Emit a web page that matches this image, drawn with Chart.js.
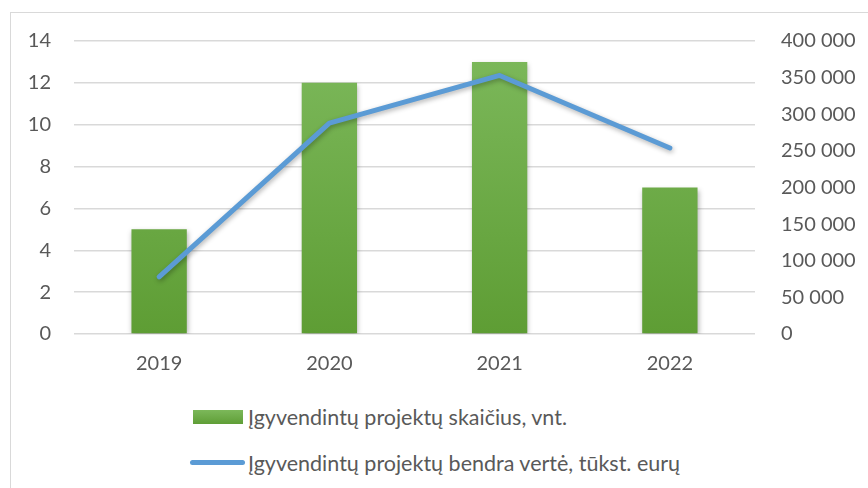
<!DOCTYPE html>
<html>
<head>
<meta charset="utf-8">
<script src="https://cdn.jsdelivr.net/npm/chart.js@4.4.0/dist/chart.umd.min.js"></script>
<style>
  html, body { margin: 0; padding: 0; background: #fff; }
  body { width: 868px; height: 488px; position: relative; overflow: hidden; font-family: Lato, "Liberation Sans", sans-serif; }
  #frame { position: absolute; left: 10px; top: 12px; width: 880px; height: 500px; border: 1px solid #d9d9d9; }
  #wrap { position: absolute; left: 0; top: 0; width: 868px; height: 400px; }
  .leg { position: absolute; left: 190px; font-size: 21.5px; color: #595959; white-space: nowrap; line-height: 24px; }
  .leg span { display: inline-block; vertical-align: middle; }
  .box { width: 50px; height: 14px; margin-left: 3px; margin-right: 5px; background: linear-gradient(#7cb85a, #5f9e36); }
  .ln { width: 55px; height: 5px; border-radius: 3px; margin-right: 3px; background: #5b9bd5; }
</style>
</head>
<body>
<div id="frame"></div>
<div id="wrap"><canvas id="chart" width="868" height="400"></canvas></div>
<div class="leg" id="leg1" style="top:402px"><span class="box"></span><span class="txt"></span></div>
<div class="leg" id="leg2" style="top:448px"><span class="ln"></span><span class="txt"></span></div>
<script>
const years = ['2019', '2020', '2021', '2022'];
const projectCount = [5, 12, 13, 7];
const projectValue = [78000, 288000, 353000, 254000];
const countLabel = 'Įgyvendintų projektų skaičius, vnt.';
const valueLabel = 'Įgyvendintų projektų bendra vertė, tūkst. eurų';

document.querySelector('#leg1 .txt').textContent = countLabel;
document.querySelector('#leg2 .txt').textContent = valueLabel;

const font = { family: 'Lato, "Liberation Sans", sans-serif', size: 20 };

function barFill(context) {
    const area = context.chart.chartArea;
    if (!area) return '#6aa843';
    const g = context.chart.ctx.createLinearGradient(0, area.top, 0, area.bottom);
    g.addColorStop(0, '#7db95c');
    g.addColorStop(1, '#5e9d34');
    return g;
}

const shadow = {
    id: 'shadow',
    beforeDatasetDraw(chart, args) {
        const ctx = chart.ctx;
        ctx.save();
        ctx.shadowColor = 'rgba(0,0,0,0.3)';
        ctx.shadowBlur = 5;
        ctx.shadowOffsetX = 1;
        ctx.shadowOffsetY = 2;
    },
    afterDatasetDraw(chart) {
        chart.ctx.restore();
    }
};

new Chart(document.getElementById('chart'), {
    data: {
        labels: years,
        datasets: [
            {
                type: 'line',
                label: valueLabel,
                data: projectValue,
                yAxisID: 'y1',
                borderColor: '#5b9bd5',
                borderWidth: 5,
                borderCapStyle: 'round',
                borderJoinStyle: 'round',
                pointRadius: 0,
                order: 0
            },
            {
                type: 'bar',
                label: countLabel,
                data: projectCount,
                yAxisID: 'y',
                backgroundColor: barFill,
                categoryPercentage: 1,
                barPercentage: 0.325,
                order: 1
            }
        ]
    },
    plugins: [shadow],
    options: {
        responsive: false,
        animation: false,
        maintainAspectRatio: false,
        layout: { padding: { top: 41, left: 0, right: 0, bottom: 0 } },
        plugins: { legend: { display: false }, tooltip: { enabled: false } },
        scales: {
            x: {
                grid: { display: false },
                border: { display: false },
                ticks: { color: '#595959', font: font, padding: 10, maxRotation: 0 },
                afterFit(scale) { scale.height = 66; }
            },
            y: {
                position: 'left',
                min: 0, max: 14,
                ticks: { stepSize: 2, color: '#595959', font: font, padding: 23 },
                grid: { color: '#d9d9d9', lineWidth: 1.5, drawTicks: false },
                border: { display: false },
                afterFit(scale) { scale.width = 74; }
            },
            y1: {
                position: 'right',
                min: 0, max: 400000,
                ticks: {
                    stepSize: 50000, color: '#595959', font: font, padding: 26,
                    callback: v => v.toString().replace(/\B(?=(\d{3})+(?!\d))/g, ' ')
                },
                grid: { display: false, drawTicks: false },
                border: { display: false },
                afterFit(scale) { scale.width = 113; }
            }
        }
    }
});
</script>
</body>
</html>
